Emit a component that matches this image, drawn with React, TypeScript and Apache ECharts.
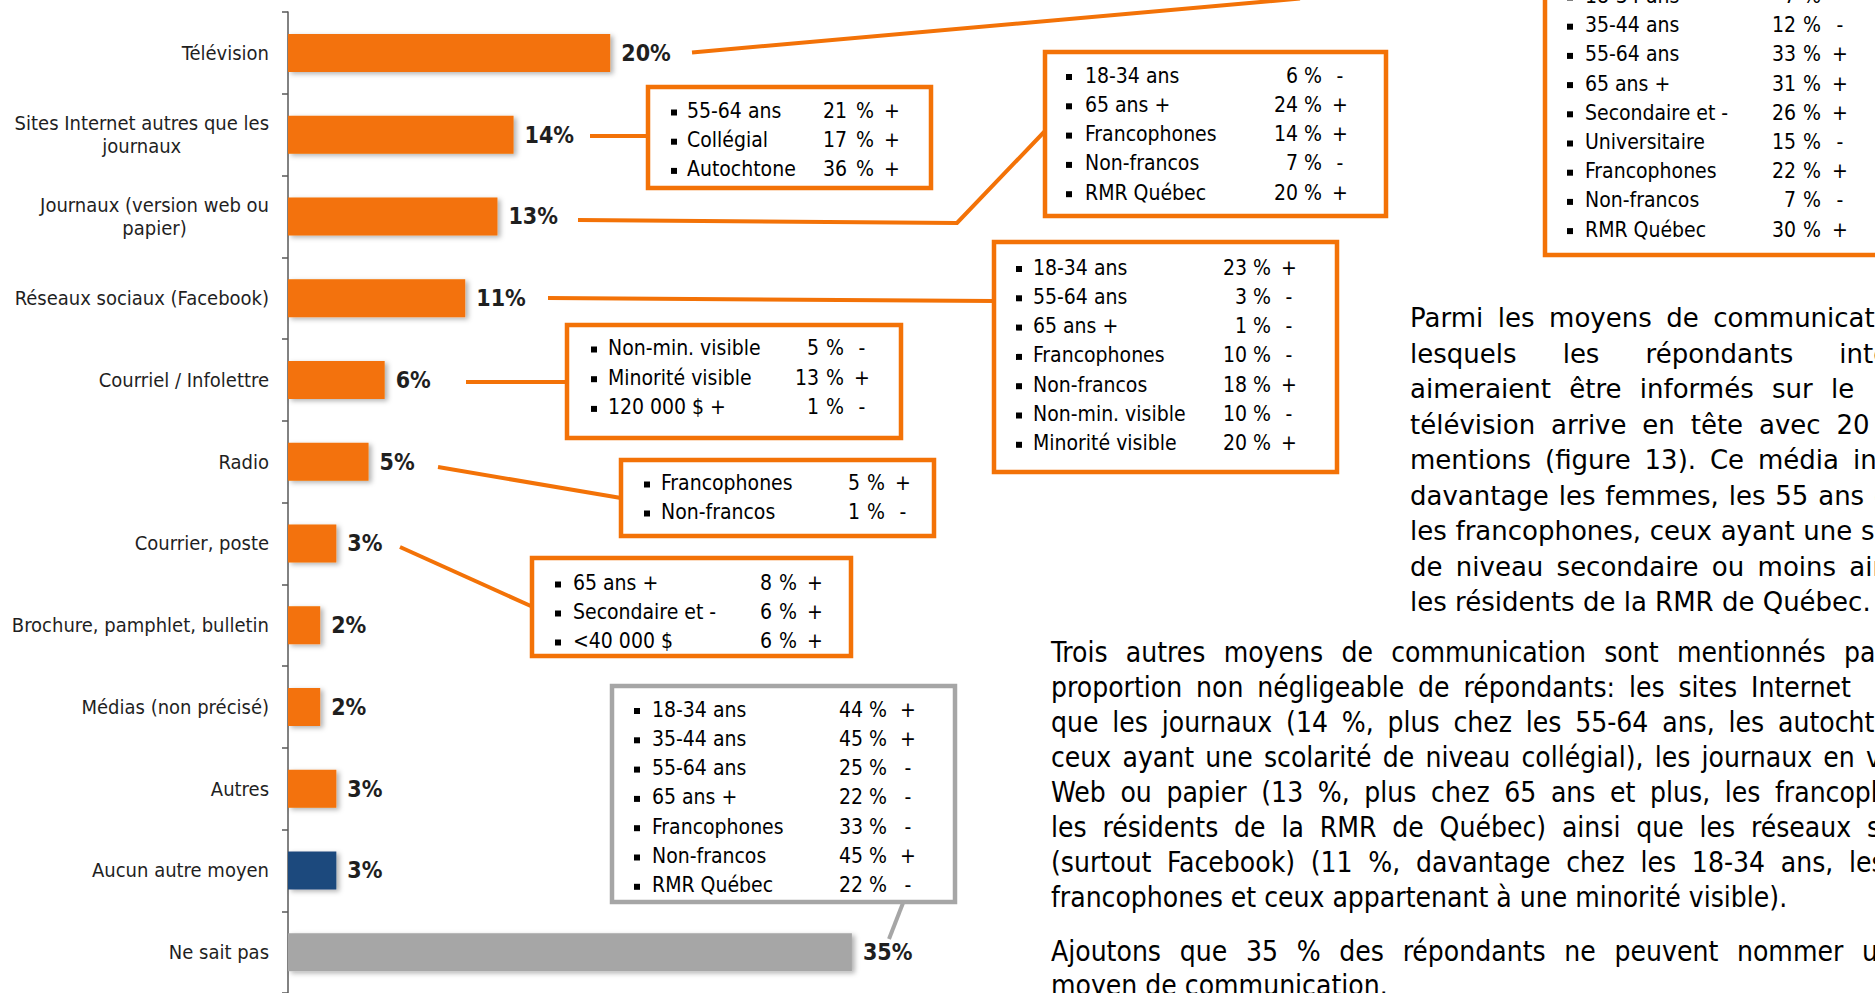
import React, { useEffect, useRef } from "react";
import * as echarts from "echarts";

// ---------- DATA ----------
const categories = [
  "Télévision",
  "Sites Internet autres que les\njournaux",
  "Journaux (version web ou\npapier)",
  "Réseaux sociaux (Facebook)",
  "Courriel / Infolettre",
  "Radio",
  "Courrier, poste",
  "Brochure, pamphlet, bulletin",
  "Médias (non précisé)",
  "Autres",
  "Aucun autre moyen",
  "Ne sait pas",
];
const values = [20, 14, 13, 11, 6, 5, 3, 2, 2, 3, 3, 35];

type Row = [string, number, string];
const tvBreakdown: Row[] = [
  ["18-34 ans", 7, "-"],
  ["35-44 ans", 12, "-"],
  ["55-64 ans", 33, "+"],
  ["65 ans +", 31, "+"],
  ["Secondaire et -", 26, "+"],
  ["Universitaire", 15, "-"],
  ["Francophones", 22, "+"],
  ["Non-francos", 7, "-"],
  ["RMR Québec", 30, "+"],
];
const sitesBreakdown: Row[] = [
  ["55-64 ans", 21, "+"],
  ["Collégial", 17, "+"],
  ["Autochtone", 36, "+"],
];
const journauxBreakdown: Row[] = [
  ["18-34 ans", 6, "-"],
  ["65 ans +", 24, "+"],
  ["Francophones", 14, "+"],
  ["Non-francos", 7, "-"],
  ["RMR Québec", 20, "+"],
];
const reseauxBreakdown: Row[] = [
  ["18-34 ans", 23, "+"],
  ["55-64 ans", 3, "-"],
  ["65 ans +", 1, "-"],
  ["Francophones", 10, "-"],
  ["Non-francos", 18, "+"],
  ["Non-min. visible", 10, "-"],
  ["Minorité visible", 20, "+"],
];
const courrielBreakdown: Row[] = [
  ["Non-min. visible", 5, "-"],
  ["Minorité visible", 13, "+"],
  ["120 000 $ +", 1, "-"],
];
const radioBreakdown: Row[] = [
  ["Francophones", 5, "+"],
  ["Non-francos", 1, "-"],
];
const courrierBreakdown: Row[] = [
  ["65 ans +", 8, "+"],
  ["Secondaire et -", 6, "+"],
  ["<40 000 $", 6, "+"],
];
const nspBreakdown: Row[] = [
  ["18-34 ans", 44, "+"],
  ["35-44 ans", 45, "+"],
  ["55-64 ans", 25, "-"],
  ["65 ans +", 22, "-"],
  ["Francophones", 33, "-"],
  ["Non-francos", 45, "+"],
  ["RMR Québec", 22, "-"],
];

// Text lines (justify: spread words; lastX: where the last word of a justified line starts)
type Line = { text: string; justify: boolean; extra?: number; lastX?: number };
const para1Lines: Line[] = [
  { text: "Parmi les moyens de communication par", justify: true },
  { text: "lesquels les répondants intéressés", justify: true },
  { text: "aimeraient être informés sur le", justify: true, extra: 10 },
  { text: "télévision arrive en tête avec 20 % des", justify: true },
  { text: "mentions (figure 13). Ce média intéresse", justify: true },
  { text: "davantage les femmes, les 55 ans et plus,", justify: true },
  { text: "les francophones, ceux ayant une scolarité", justify: true },
  { text: "de niveau secondaire ou moins ainsi que", justify: true },
  { text: "les résidents de la RMR de Québec.", justify: false },
];
const para2Lines: Line[] = [
  { text: "Trois autres moyens de communication sont mentionnés par", justify: true, lastX: 1844 },
  { text: "proportion non négligeable de répondants: les sites Internet", justify: true, lastX: 1751 },
  { text: "que les journaux (14 %, plus chez les 55-64 ans, les autochtones", justify: true, lastX: 1778 },
  { text: "ceux ayant une scolarité de niveau collégial), les journaux en version", justify: true, lastX: 1866 },
  { text: "Web ou papier (13 %, plus chez 65 ans et plus, les francophones", justify: true, lastX: 1775 },
  { text: "les résidents de la RMR de Québec) ainsi que les réseaux sociaux", justify: true, lastX: 1867 },
  { text: "(surtout Facebook) (11 %, davantage chez les 18-34 ans, les", justify: true, lastX: 1849 },
  { text: "francophones et ceux appartenant à une minorité visible).", justify: false },
];
const para3Lines: Line[] = [
  { text: "Ajoutons que 35 % des répondants ne peuvent nommer un", justify: true, lastX: 1862 },
  { text: "moyen de communication.", justify: false },
];

// ---------- STYLE ----------
const ORANGE = "#F37207";
const NAVY = "#1F497D";
const GRAY = "#A6A6A6";
const FONT_C = '"DejaVu Sans Condensed", "DejaVu Sans", sans-serif';
const FONT_R = '"DejaVu Sans", sans-serif';

function measurer(font: string) {
  const ctx = document.createElement("canvas").getContext("2d")!;
  ctx.font = font;
  return (s: string) => ctx.measureText(s).width;
}

function txt(text: string, x: number, y: number, font: string, align = "left", fill = "#000") {
  return {
    type: "text",
    x,
    y,
    silent: true,
    style: {
      text,
      font,
      fill,
      align,
      textAlign: align,
      verticalAlign: "middle",
      textVerticalAlign: "middle",
    },
  };
}

function paragraph(lines: Line[], x0: number, y0: number, lh: number, width: number, font: string) {
  const m = measurer(font);
  const els: any[] = [];
  const space = m(" ");
  lines.forEach((line, i) => {
    const y = y0 + i * lh;
    if (!line.justify) {
      els.push(txt(line.text, x0, y, font));
      return;
    }
    const words = line.text.split(" ");
    const ws = words.map(m);
    const n = Math.max(1, words.length - 1);
    const total = ws.reduce((a, b) => a + b, 0);
    let gap: number;
    if (line.lastX !== undefined) {
      const before = ws.slice(0, -1).reduce((a, b) => a + b, 0);
      gap = (line.lastX - x0 - before) / n;
    } else if (line.extra !== undefined) {
      gap = space + line.extra;
    } else {
      gap = (width - total) / n;
    }
    gap = Math.max(gap, space * 0.8);
    let x = x0;
    words.forEach((w, j) => {
      els.push(txt(w, x, y, font));
      x += ws[j] + gap;
    });
  });
  return els;
}

type BoxLayout = {
  rows: Row[];
  rect: [number, number, number, number];
  y0: number;
  step: number;
  bx: number;
  tx: number;
  nx: number;
  px: number;
  sx: number;
  color: string;
};

function box(b: BoxLayout) {
  const font = `21px ${FONT_C}`;
  const els: any[] = [
    {
      type: "rect",
      silent: true,
      shape: { x: b.rect[0] + 2, y: b.rect[1] + 2, width: b.rect[2] - 4, height: b.rect[3] - 4 },
      style: { fill: "#fff", stroke: b.color, lineWidth: 4.5 },
    },
  ];
  b.rows.forEach((r, i) => {
    const y = b.y0 + i * b.step;
    els.push({
      type: "rect",
      silent: true,
      shape: { x: b.bx - 3, y: y - 1.5, width: 6, height: 6 },
      style: { fill: "#000" },
    });
    els.push(txt(r[0], b.tx, y, font));
    els.push(txt(String(r[1]), b.nx, y, font, "right"));
    els.push(txt("%", b.px, y, font));
    els.push(txt(r[2], b.sx, y, font, "center"));
  });
  return els;
}

function line(points: number[][], color: string, w = 4) {
  return {
    type: "polyline",
    silent: true,
    shape: { points },
    style: { stroke: color, lineWidth: w, fill: null },
  };
}

function buildOption() {
  const boxes: BoxLayout[] = [
    { rows: tvBreakdown, rect: [1543, -60, 400, 317], y0: -4, step: 29.2, bx: 1570, tx: 1585, nx: 1796, px: 1803, sx: 1840, color: ORANGE },
    { rows: sitesBreakdown, rect: [646, 85, 287, 105], y0: 111, step: 29.2, bx: 674, tx: 687, nx: 847, px: 856, sx: 892, color: ORANGE },
    { rows: journauxBreakdown, rect: [1043, 50, 345, 168], y0: 75.5, step: 29.3, bx: 1069, tx: 1085, nx: 1298, px: 1304, sx: 1340, color: ORANGE },
    { rows: reseauxBreakdown, rect: [992, 240, 347, 234], y0: 267.5, step: 29.3, bx: 1019, tx: 1033, nx: 1247, px: 1253, sx: 1289, color: ORANGE },
    { rows: courrielBreakdown, rect: [565, 323, 338, 117], y0: 348, step: 29.7, bx: 594, tx: 608, nx: 819, px: 826, sx: 862, color: ORANGE },
    { rows: radioBreakdown, rect: [619, 458, 317, 80], y0: 483, step: 29, bx: 647, tx: 661, nx: 860, px: 867, sx: 903, color: ORANGE },
    { rows: courrierBreakdown, rect: [530, 556, 323, 102], y0: 583, step: 29, bx: 558, tx: 573, nx: 772, px: 779, sx: 815, color: ORANGE },
    { rows: nspBreakdown, rect: [610, 684, 347, 220], y0: 709.5, step: 29.3, bx: 637, tx: 652, nx: 863, px: 869, sx: 908, color: GRAY },
  ];

  const connectors = [
    line([[692, 52.5], [1300, -1.5]], ORANGE),
    line([[590, 136], [648, 136]], ORANGE),
    line([[578, 220], [957, 223], [1045, 131]], ORANGE),
    line([[548, 298], [994, 301]], ORANGE),
    line([[466, 382], [567, 382]], ORANGE),
    line([[438, 467], [621, 498]], ORANGE),
    line([[400, 547], [533, 607]], ORANGE),
    line([[889, 939], [903, 903]], GRAY),
  ];

  const graphics: any[] = [
    ...connectors,
    ...boxes.flatMap(box),
    ...paragraph(para1Lines, 1410, 318, 35.5, 562, `26px ${FONT_R}`),
    ...paragraph(para2Lines, 1051, 652, 35, 921, `28px ${FONT_C}`),
    ...paragraph(para3Lines, 1051, 951, 34, 921, `28px ${FONT_C}`),
  ];

  const colorFor = (c: string) =>
    c === "Aucun autre moyen" ? NAVY : c === "Ne sait pas" ? GRAY : ORANGE;

  return {
    animation: false,
    backgroundColor: "#fff",
    grid: { left: 288, top: 12, right: 0, height: 985 },
    xAxis: { type: "value", min: 0, max: 98.5, show: false },
    yAxis: {
      type: "category",
      inverse: true,
      data: categories,
      axisLine: { show: true, lineStyle: { color: "#595959", width: 1.5 } },
      axisTick: { show: true, length: 6, lineStyle: { color: "#595959", width: 1.5 } },
      splitLine: { show: false },
      axisLabel: {
        interval: 0,
        margin: 19,
        formatter: (v: string) => v.split("\n").map((l) => `{c|${l}}`).join("\n"),
        rich: {
          c: {
            align: "center",
            fontFamily: FONT_C,
            fontSize: 20,
            lineHeight: 23,
            color: "#1f1f1f",
          },
        },
      },
    },
    series: [
      {
        type: "bar",
        barWidth: 38,
        data: values.map((v, i) => ({
          value: v,
          itemStyle: {
            color: colorFor(categories[i]),
            shadowColor: "rgba(0,0,0,0.3)",
            shadowBlur: 5,
            shadowOffsetX: 3,
            shadowOffsetY: 2,
          },
        })),
        label: {
          show: true,
          position: "right",
          distance: 11,
          formatter: "{c}%",
          fontFamily: FONT_C,
          fontWeight: "bold",
          fontSize: 23,
          color: "#1f1f1f",
        },
      },
    ],
    graphic: { elements: graphics },
  };
}

export default function App() {
  const ref = useRef<HTMLDivElement>(null);
  useEffect(() => {
    document.body.style.margin = "0";
    document.body.style.overflow = "hidden";
    const chart = echarts.init(ref.current!, null, { renderer: "svg" });
    chart.setOption(buildOption() as any);
    return () => chart.dispose();
  }, []);
  return <div ref={ref} style={{ width: 1875, height: 993, overflow: "hidden" }} />;
}
